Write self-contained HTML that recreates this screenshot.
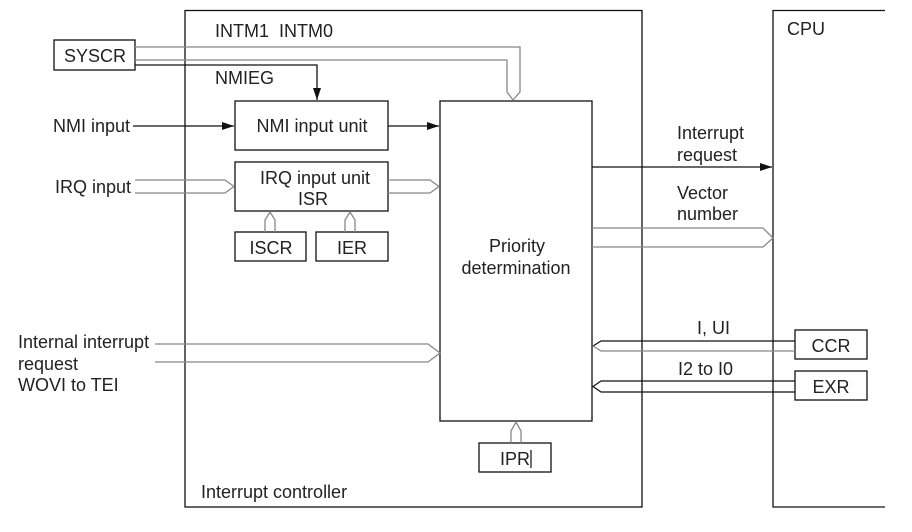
<!DOCTYPE html>
<html><head><style>
html,body{margin:0;padding:0;background:#fff;}
svg{display:block;}
text{font-family:"Liberation Sans",Arial,sans-serif;font-size:18px;fill:#222;}
</style></head><body>
<svg width="912" height="532" viewBox="0 0 912 532" xmlns="http://www.w3.org/2000/svg">
<defs>
<marker id="a" markerWidth="12" markerHeight="8" refX="12" refY="4" orient="auto" markerUnits="userSpaceOnUse">
<path d="M0,0 L12,4 L0,8 Z" fill="#111"/></marker>
</defs>
<g fill="none" stroke="#111" stroke-width="1.3">
<rect x="185" y="10.5" width="457" height="496.5"/>
<polyline points="885,10.5 773,10.5 773,507 885,507"/>
<rect x="440" y="101" width="152" height="320"/>
<rect x="54" y="40" width="81" height="30"/>
<rect x="235" y="101" width="153" height="49"/>
<rect x="235" y="162" width="153" height="49"/>
<rect x="235" y="232" width="71" height="29"/>
<rect x="316" y="232" width="72" height="29"/>
<rect x="795" y="330" width="72" height="29"/>
<rect x="795" y="371" width="72" height="29"/>
<rect x="479" y="443" width="72" height="29"/>
<polyline points="135,65 317,65 317,100" marker-end="url(#a)"/>
<line x1="133" y1="126" x2="234" y2="126" marker-end="url(#a)"/>
<line x1="388" y1="126" x2="439" y2="126" marker-end="url(#a)"/>
<line x1="592" y1="167" x2="772" y2="167" marker-end="url(#a)"/>
</g>
<g fill="none" stroke="#888" stroke-width="1.3">
<polyline points="135,47 520,47 520,92 513,100 507,92 507,60 135,60"/>
<polyline points="135,180 225,180 234,186.5 225,193 135,193"/>
<polyline points="388,180 430,180 439,186.5 430,193 388,193"/>
<polyline points="265,232 265,220 270,212 275,220 275,232"/>
<polyline points="345,232 345,220 350,212 355,220 355,232"/>
<polyline points="592,228 763,228 773,238 763,247 592,247"/>
<polyline points="155,344 428,344 440,353 428,362 155,362"/>
<polyline points="511,443 511,431 516,422 521,431 521,443"/>
</g>
<g fill="none" stroke-width="1.2">
<polyline points="795,341 601,341 593,346" stroke="#111"/>
<polyline points="593,346 601,351 795,351" stroke="#888"/>
<polyline points="795,381 601,381 593,386.5 601,392 795,392" stroke="#111"/>
<line x1="531" y1="450" x2="531" y2="468" stroke="#111"/>
</g>
<text x="215" y="37" xml:space="preserve">INTM1  INTM0</text>
<text x="215" y="84">NMIEG</text>
<text x="95" y="62" text-anchor="middle">SYSCR</text>
<text x="53" y="132">NMI input</text>
<text x="55" y="193">IRQ input</text>
<text x="312" y="132" text-anchor="middle">NMI input unit</text>
<text x="315" y="184" text-anchor="middle">IRQ input unit</text>
<text x="313" y="205" text-anchor="middle">ISR</text>
<text x="271" y="254" text-anchor="middle">ISCR</text>
<text x="352" y="254" text-anchor="middle">IER</text>
<text x="517" y="252" text-anchor="middle">Priority</text>
<text x="516" y="274" text-anchor="middle">determination</text>
<text x="677" y="139">Interrupt</text>
<text x="677" y="161">request</text>
<text x="677" y="199">Vector</text>
<text x="677" y="220">number</text>
<text x="787" y="35">CPU</text>
<text x="697" y="334">I, UI</text>
<text x="678" y="375">I2 to I0</text>
<text x="831" y="352" text-anchor="middle">CCR</text>
<text x="831" y="393" text-anchor="middle">EXR</text>
<text x="515" y="465" text-anchor="middle">IPR</text>
<text x="18" y="348">Internal interrupt</text>
<text x="18" y="370">request</text>
<text x="18" y="391">WOVI to TEI</text>
<text x="201" y="498">Interrupt controller</text>
</svg>
</body></html>
